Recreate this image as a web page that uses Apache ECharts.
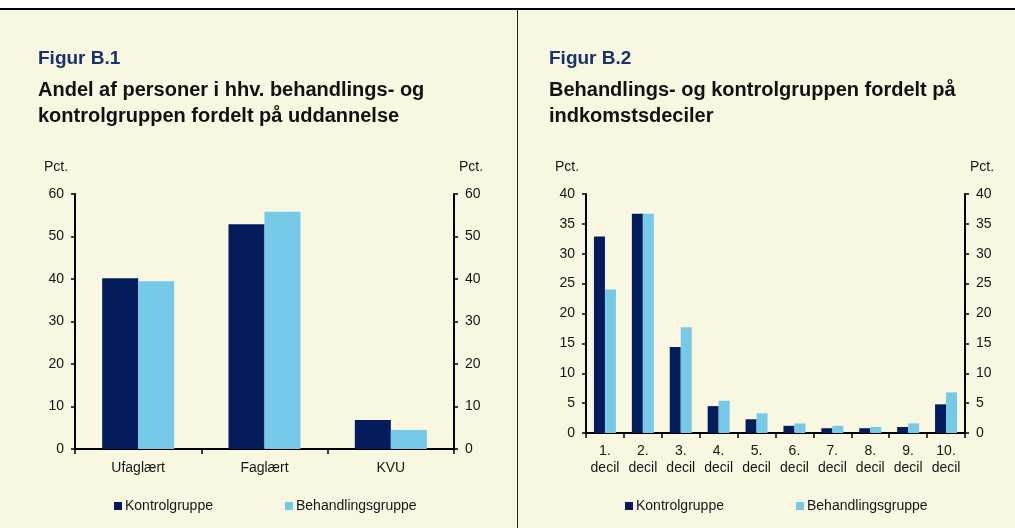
<!DOCTYPE html>
<html><head><meta charset="utf-8">
<script src="https://cdn.jsdelivr.net/npm/echarts@6/dist/echarts.min.js"></script>
<style>html,body{margin:0;padding:0;background:#F8F7E1;}#c{width:1015px;height:528px;}</style>
</head><body><div id="c"></div>
<script>
const eduCategories = ['Ufaglært', 'Faglært', 'KVU'];
const eduKontrol = [40.2, 52.9, 6.8];
const eduBehandling = [39.5, 55.8, 4.5];
const decilCategories = ['1.\ndecil','2.\ndecil','3.\ndecil','4.\ndecil','5.\ndecil','6.\ndecil','7.\ndecil','8.\ndecil','9.\ndecil','10.\ndecil'];
const decilKontrol = [32.9, 36.7, 14.4, 4.5, 2.3, 1.2, 0.8, 0.8, 1.0, 4.8];
const decilBehandling = [24.0, 36.7, 17.7, 5.4, 3.3, 1.6, 1.2, 1.0, 1.6, 6.8];

const DARK = '#041C5B', LIGHT = '#76C9E7', TXT = '#161616';
const FONT = 'Liberation Sans, Arial, sans-serif';
const axisLine = {show:true, lineStyle:{color:'#000', width:2}};
const axisTick = {show:true, length:4, lineStyle:{color:'#000', width:1.5}};
const lbl = {color:TXT, fontSize:14, fontFamily:FONT};

function yAx(gi, max, interval, pos){
  return {type:'value', gridIndex:gi, min:0, max:max, interval:interval, position:pos,
    axisLine:axisLine, axisTick:axisTick, splitLine:{show:false},
    axisLabel:Object.assign({margin:11}, lbl)};
}
function leg(name, left){
  return {data:[name], left:left, top:499, padding:0, icon:'rect', itemWidth:8, itemHeight:8,
    textStyle:Object.assign({padding:[0,0,0,-2]}, lbl), selectedMode:false};
}
const chart = echarts.init(document.getElementById('c'));
chart.setOption({
  backgroundColor:'#F8F7E1',
  animation:false,
  textStyle:{fontFamily:FONT},
  title:[
    {text:'Figur B.1', left:38, top:49, padding:0, textStyle:{color:'#1A3170', fontSize:19, fontWeight:'bold', fontFamily:FONT}},
    {text:'Andel af personer i hhv. behandlings- og\nkontrolgruppen fordelt på uddannelse', left:38, top:77, padding:0,
      textStyle:{color:'#111', fontSize:20, fontWeight:'bold', lineHeight:26, fontFamily:FONT}},
    {text:'Figur B.2', left:549, top:49, padding:0, textStyle:{color:'#1A3170', fontSize:19, fontWeight:'bold', fontFamily:FONT}},
    {text:'Behandlings- og kontrolgruppen fordelt på\nindkomstsdeciler', left:549, top:77, padding:0,
      textStyle:{color:'#111', fontSize:20, fontWeight:'bold', lineHeight:26, fontFamily:FONT}}
  ],
  graphic:[
    {type:'rect', left:0, top:0, shape:{width:1015, height:9}, style:{fill:'#fff'}},
    {type:'line', shape:{x1:0, y1:9, x2:1015, y2:9}, style:{stroke:'#000', lineWidth:2}},
    {type:'line', shape:{x1:517.5, y1:10, x2:517.5, y2:528}, style:{stroke:'#222', lineWidth:1}},
    {type:'text', left:44, top:160, style:{text:'Pct.', font:'14px '+FONT, fill:TXT}},
    {type:'text', left:459, top:160, style:{text:'Pct.', font:'14px '+FONT, fill:TXT}},
    {type:'text', left:555, top:160, style:{text:'Pct.', font:'14px '+FONT, fill:TXT}},
    {type:'text', left:970, top:160, style:{text:'Pct.', font:'14px '+FONT, fill:TXT}}
  ],
  legend:[
    leg('Kontrolgruppe', 114), leg('Behandlingsgruppe', 285),
    leg('Kontrolgruppe', 625), leg('Behandlingsgruppe', 796)
  ],
  grid:[
    {left:75, right:561, top:194, bottom:79},
    {left:586, right:50, top:194, bottom:95}
  ],
  xAxis:[
    {type:'category', gridIndex:0, data:eduCategories, axisLine:axisLine, axisTick:Object.assign({}, axisTick, {length:5}),
      axisLabel:Object.assign({margin:12}, lbl)},
    {type:'category', gridIndex:1, data:decilCategories, axisLine:axisLine, axisTick:Object.assign({}, axisTick, {length:5}),
      axisLabel:Object.assign({margin:10, lineHeight:17, interval:0}, lbl)}
  ],
  yAxis:[
    yAx(0, 60, 10, 'left'), yAx(0, 60, 10, 'right'),
    yAx(1, 40, 5, 'left'), yAx(1, 40, 5, 'right')
  ],
  series:[
    {name:'Kontrolgruppe', type:'bar', xAxisIndex:0, yAxisIndex:0, data:eduKontrol, itemStyle:{color:DARK}, barGap:'0%', barCategoryGap:'43%'},
    {name:'Behandlingsgruppe', type:'bar', xAxisIndex:0, yAxisIndex:0, data:eduBehandling, itemStyle:{color:LIGHT}, barGap:'0%', barCategoryGap:'43%'},
    {name:'Kontrolgruppe', type:'bar', xAxisIndex:1, yAxisIndex:2, data:decilKontrol, itemStyle:{color:DARK}, barGap:'0%', barCategoryGap:'42%'},
    {name:'Behandlingsgruppe', type:'bar', xAxisIndex:1, yAxisIndex:2, data:decilBehandling, itemStyle:{color:LIGHT}, barGap:'0%', barCategoryGap:'42%'}
  ]
});
</script></body></html>
